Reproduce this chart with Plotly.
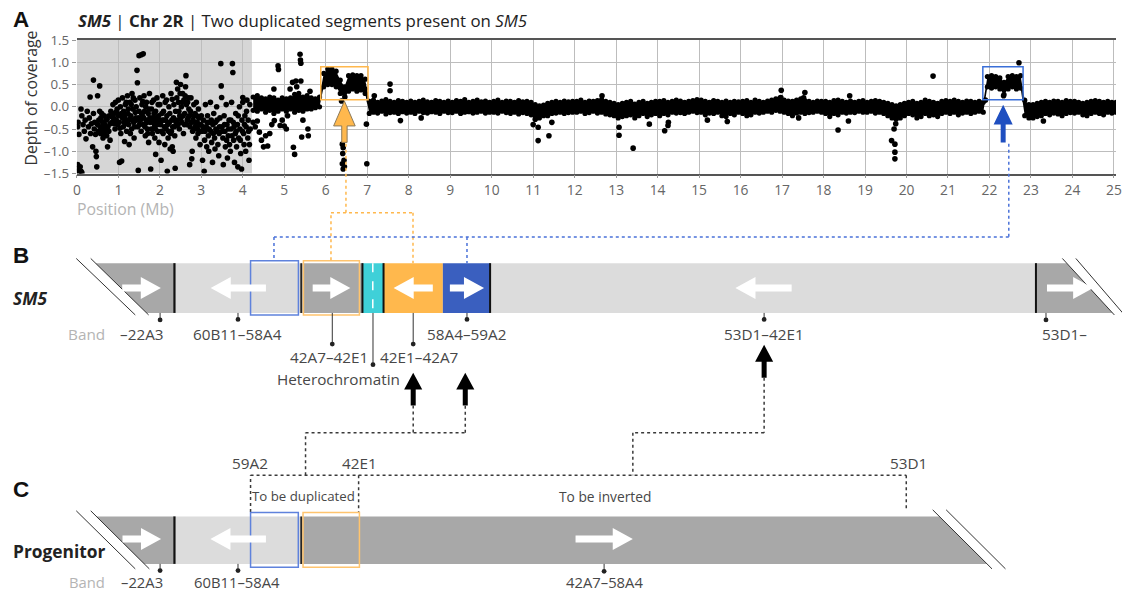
import plotly.graph_objects as go

# ---------------- DATA ----------------
x_ticks = list(range(0, 26))
y_tickvals = [-1.5, -1.0, -0.5, 0.0, 0.5, 1.0, 1.5]
y_ticktext = ["–1.5", "–1.0", "–0.5", "0.0", "0.5", "1.0", "1.5"]

# heterochromatic (grey) region, Mb
hetero_end = 4.22
# duplicated segments (Mb, depth)
dup_orange = (5.88, 7.02, 0.16, 0.90)
dup_blue = (21.84, 22.81, 0.16, 0.90)

# coverage bins (0.1 Mb) from 4.2 Mb: upper and lower edge of the dense band
band_start = 4.2
band_width = 0.1
band_hi = [
    0.22, 0.25, 0.20, 0.18, 0.22, 0.20, 0.15, 0.20,
    0.18, 0.20, 0.28, 0.30, 0.22, 0.25, 0.20, 0.18, 0.22,
    0.75, 0.85, 0.85, 0.80, 0.60, 0.45, 0.70, 0.72, 0.70, 0.70, 0.62,
    0.12, 0.15, 0.10, 0.13, 0.16, 0.12, 0.10, 0.14, 0.12, 0.10,
    0.13, 0.10, 0.12, 0.15, 0.11, 0.10, 0.14, 0.12, 0.10, 0.13,
    0.10, 0.14, 0.12, 0.16, 0.10, 0.12, 0.15, 0.11, 0.13, 0.10,
    0.12, 0.15, 0.10, 0.13, 0.12, 0.10, 0.14, 0.11, 0.12, 0.10,
    0.05, 0.02, 0.04, 0.08, 0.10, 0.12, 0.10, 0.13, 0.11, 0.12,
    0.12, 0.15, 0.10, 0.13, 0.12, 0.14, 0.16, 0.12, 0.10, 0.08,
    0.05, 0.08, 0.10, 0.12, 0.06, 0.10, 0.12, 0.08, 0.10, 0.12,
    0.12, 0.14, 0.10, 0.12, 0.15, 0.13, 0.10, 0.12, 0.14, 0.16,
    0.15, 0.12, 0.10, 0.14, 0.12, 0.10, 0.13, 0.10, 0.12, 0.11,
    0.12, 0.14, 0.10, 0.15, 0.12, 0.10, 0.13, 0.15, 0.18, 0.20,
    0.15, 0.13, 0.12, 0.15, 0.18, 0.14, 0.12, 0.10, 0.13, 0.12,
    0.12, 0.10, 0.14, 0.15, 0.12, 0.10, 0.13, 0.10, 0.12, 0.14,
    0.10, 0.12, 0.14, 0.12, 0.10, 0.08, 0.05, 0.02, 0.05, 0.08,
    0.10, 0.12, 0.08, 0.10, 0.15, 0.12, 0.10, 0.08, 0.12, 0.14,
    0.12, 0.15, 0.12, 0.10, 0.13, 0.12, 0.10, 0.12, 0.10, 0.68,
    0.70, 0.68, 0.65, 0.55, 0.68, 0.70, 0.68, 0.70, 0.15, 0.05,
    0.05, 0.08, 0.10, 0.12, 0.10, 0.13, 0.12, 0.10, 0.14, 0.12,
    0.12, 0.10, 0.08, 0.10, 0.12, 0.14, 0.12, 0.10, 0.12, 0.10,
    0.10,
]
band_lo = [
    -0.08, -0.10, -0.05, -0.12, -0.08, -0.15, -0.10, -0.05,
    -0.10, -0.05, -0.12, -0.08, -0.10, -0.05, -0.05, -0.02, 0.00,
    0.45, 0.50, 0.50, 0.45, 0.30, 0.30, 0.35, 0.40, 0.35, 0.38, 0.30,
    -0.15, -0.12, -0.14, -0.10, -0.16, -0.13, -0.12, -0.15, -0.11, -0.14,
    -0.12, -0.15, -0.10, -0.13, -0.14, -0.11, -0.12, -0.15, -0.10, -0.13,
    -0.13, -0.10, -0.15, -0.12, -0.11, -0.14, -0.12, -0.10, -0.14, -0.12,
    -0.12, -0.14, -0.10, -0.13, -0.15, -0.12, -0.16, -0.13, -0.15, -0.18,
    -0.22, -0.25, -0.20, -0.20, -0.15, -0.14, -0.12, -0.15, -0.13, -0.12,
    -0.12, -0.10, -0.15, -0.13, -0.10, -0.14, -0.12, -0.16, -0.18, -0.20,
    -0.25, -0.22, -0.20, -0.18, -0.25, -0.20, -0.15, -0.22, -0.18, -0.15,
    -0.20, -0.15, -0.18, -0.12, -0.14, -0.13, -0.15, -0.12, -0.10, -0.13,
    -0.12, -0.18, -0.14, -0.15, -0.12, -0.20, -0.22, -0.15, -0.18, -0.12,
    -0.15, -0.20, -0.18, -0.12, -0.14, -0.12, -0.10, -0.12, -0.08, -0.10,
    -0.12, -0.15, -0.20, -0.14, -0.12, -0.15, -0.13, -0.12, -0.10, -0.12,
    -0.15, -0.22, -0.15, -0.18, -0.12, -0.14, -0.12, -0.13, -0.10, -0.12,
    -0.12, -0.10, -0.14, -0.12, -0.15, -0.20, -0.25, -0.28, -0.25, -0.20,
    -0.15, -0.18, -0.25, -0.22, -0.15, -0.20, -0.18, -0.22, -0.15, -0.12,
    -0.15, -0.12, -0.18, -0.14, -0.12, -0.15, -0.12, -0.10, -0.12, 0.45,
    0.42, 0.45, 0.40, 0.28, 0.40, 0.45, 0.40, 0.42, -0.20, -0.25,
    -0.25, -0.22, -0.20, -0.15, -0.18, -0.14, -0.16, -0.20, -0.15, -0.13,
    -0.14, -0.12, -0.18, -0.20, -0.15, -0.12, -0.15, -0.18, -0.12, -0.14,
    -0.12,
]

# individual scattered bins (Mb, depth of coverage)
cloud_points = [
    (0.02, -1.30), (0.04, -1.38), (0.06, -1.42), (0.08, -1.35), (0.10, -1.45), (0.12, -1.48), (0.05, -1.46),
    (0.03, -0.35), (0.02, -0.45), (0.05, -0.62), (0.10, -0.05), (0.12, -0.20), (0.15, -0.40), (0.18, -0.55),
    (0.20, -0.30), (0.22, -0.72), (0.25, -0.10), (0.28, -0.45), (0.30, -0.25), (0.32, 0.22), (0.33, -0.60),
    (0.35, -0.38), (0.38, -0.90), (0.40, 0.60), (0.40, -0.15), (0.42, -0.50), (0.43, -0.35), (0.45, -0.62),
    (0.46, -1.00), (0.47, -1.12), (0.48, -1.35), (0.50, 0.25), (0.50, -0.40),
    (0.52, -0.55), (0.53, -0.30), (0.55, 0.47), (0.56, -0.45), (0.57, -0.60), (0.58, -0.25), (0.60, -0.50),
    (0.62, -0.35), (0.63, -0.70), (0.65, -0.42), (0.66, -0.20), (0.68, -0.55), (0.70, -0.30), (0.72, -0.65),
    (0.74, -0.90), (0.75, -0.45), (0.78, -0.20), (0.80, -0.75), (0.82, -0.10), (0.85, -0.35), (0.87, 0.05),
    (0.88, -0.25), (0.90, -0.15), (0.92, -0.50), (0.93, 0.10), (0.95, -0.30), (0.97, -0.05), (0.98, -0.40),
    (1.00, 0.15), (1.00, -0.20), (1.02, -0.35), (1.03, -1.25), (1.05, 0.00), (1.06, -0.60), (1.08, -1.22),
    (1.10, 0.20), (1.10, -0.25), (1.12, -0.45), (1.13, -0.10), (1.15, -0.78), (1.17, 0.05), (1.18, -0.30),
    (1.20, -0.55), (1.22, 0.25), (1.23, -0.15), (1.25, -0.40), (1.26, -0.85), (1.28, 0.10), (1.30, -0.20),
    (1.32, -0.50), (1.33, 0.30), (1.35, -0.05), (1.37, -0.35), (1.38, -0.70), (1.40, 0.15), (1.42, -0.25),
    (1.43, 0.00), (1.45, 0.82), (1.46, 0.54), (1.47, -0.45), (1.48, -1.43), (1.50, -0.10), (1.50, 1.15),
    (1.55, 1.17), (1.60, 1.19), (1.52, 0.20), (1.53, -0.30), (1.55, -0.55), (1.57, 0.05), (1.58, -0.20),
    (1.60, -0.40), (1.62, 0.25), (1.63, -0.10), (1.65, -0.65), (1.67, -0.30), (1.68, 0.10), (1.70, -0.50),
    (1.72, -0.15), (1.73, -0.80), (1.75, 0.30), (1.77, -0.35), (1.78, -1.40), (1.80, -0.05), (1.82, -0.60),
    (1.83, -0.25), (1.85, 0.15), (1.87, -0.45), (1.88, -0.70), (1.90, -1.07), (1.90, -0.10), (1.92, -0.35),
    (1.93, 0.20), (1.95, -0.55), (1.97, -0.20), (1.98, -0.80), (2.00, 0.05),
    (2.02, -0.40), (2.03, -1.20), (2.05, -0.15), (2.07, 0.25), (2.08, -0.60), (2.10, -0.30), (2.12, -0.85),
    (2.13, 0.10), (2.15, -0.50), (2.17, -0.20), (2.18, -1.45), (2.20, -0.70), (2.22, 0.00), (2.23, -0.35),
    (2.25, -0.95), (2.27, 0.30), (2.28, -0.55), (2.30, 0.17), (2.30, -0.90), (2.32, -1.00), (2.33, -0.25),
    (2.35, -0.45), (2.37, -1.38), (2.38, -0.10), (2.40, 0.55), (2.42, -0.30), (2.43, 0.40), (2.45, 0.10),
    (2.47, -0.50), (2.48, -0.20), (2.50, 0.50),
    (2.52, 0.00), (2.53, -0.35), (2.55, 0.30), (2.57, -0.60), (2.58, 0.15), (2.60, -0.15), (2.62, 0.45),
    (2.63, 0.70), (2.65, -0.40), (2.67, 0.10), (2.68, -0.25), (2.70, -0.05), (2.72, -1.30), (2.73, -0.45),
    (2.75, 0.20), (2.77, -1.17), (2.78, -1.00), (2.80, -0.30), (2.82, 0.05), (2.83, -0.50), (2.85, -0.15),
    (2.87, -0.70), (2.88, 0.10), (2.90, -0.35), (2.92, -0.60), (2.93, -0.05), (2.95, -0.40), (2.97, -0.85),
    (3.00, -0.20),
    (3.02, -0.55), (3.03, -1.20), (3.05, -0.30), (3.07, -1.45), (3.08, -0.75), (3.10, 0.05), (3.12, -0.45),
    (3.13, -0.90), (3.15, -0.20), (3.17, -0.65), (3.18, -1.00), (3.20, -0.35), (3.22, 0.10), (3.23, -0.55),
    (3.25, -0.80), (3.27, -1.25), (3.28, -0.40), (3.30, -0.15), (3.32, -0.70), (3.33, -0.95), (3.35, -0.50),
    (3.37, 0.00), (3.38, -0.30), (3.40, -0.85), (3.42, -1.10), (3.43, -0.60), (3.45, -0.25), (3.47, 0.97),
    (3.48, 0.47), (3.49, 0.21), (3.50, -0.45),
    (3.52, -0.70), (3.53, -1.30), (3.55, -0.20), (3.57, -0.55), (3.58, -0.90), (3.60, 0.05), (3.62, -0.40),
    (3.63, -1.15), (3.65, -0.65), (3.67, -0.30), (3.68, -0.85), (3.70, -1.00), (3.72, -0.50), (3.73, 0.10),
    (3.75, 0.97), (3.76, 0.77), (3.77, -0.35), (3.78, -0.75), (3.80, -1.25), (3.82, -0.60), (3.83, -0.15),
    (3.85, -0.90), (3.87, -0.40), (3.88, -1.35), (3.90, -0.70), (3.92, 0.00), (3.93, -0.50), (3.95, -1.05),
    (3.97, -1.40), (3.98, -0.30), (4.00, 0.21), (4.00, 0.10), (4.02, -0.60), (4.03, -0.85), (4.05, -0.20),
    (4.07, -1.00), (4.08, -0.45), (4.10, 0.15), (4.12, -0.70), (4.13, -0.30), (4.15, -1.20), (4.17, 0.05),
    (4.18, -0.50),
    (0.55, -0.10), (0.60, -0.15), (0.62, -0.60), (0.67, -0.40), (0.70, -0.48), (0.73, -0.28), (0.77, -0.55),
    (0.80, -0.38), (0.84, -0.22), (0.90, -0.38), (0.95, -0.12), (1.04, -0.48), (1.07, -0.15), (1.14, -0.35),
    (1.16, -0.20), (1.19, 0.10), (1.21, -0.38), (1.24, -0.05), (1.27, -0.28), (1.29, -0.60), (1.31, 0.05),
    (1.34, -0.30), (1.36, 0.20), (1.39, -0.45), (1.41, -0.12), (1.44, -0.30), (1.49, -0.25), (1.51, -0.40),
    (1.56, -0.15), (1.59, 0.12), (1.61, -0.25), (1.64, -0.45), (1.66, 0.00), (1.69, -0.35), (1.71, -0.60),
    (1.74, -0.05), (1.76, -0.25), (1.79, -0.50), (1.81, 0.10), (1.84, -0.35), (1.86, -0.15), (1.89, -0.50),
    (1.91, -0.25), (1.94, -0.40), (1.96, 0.05), (1.99, -0.30), (2.04, -0.55), (2.06, -0.30), (2.09, -0.10),
    (2.11, -0.45), (2.14, -0.30), (2.16, 0.15), (2.19, -0.40), (2.21, -0.55), (2.24, -0.15), (2.26, -0.60),
    (2.29, -0.30), (2.31, -0.45), (2.34, 0.05), (2.36, -0.65), (2.39, -0.35), (2.41, 0.20), (2.44, -0.40),
    (2.46, -0.10), (2.49, 0.30), (2.51, -0.25), (2.54, 0.10), (2.56, -0.20), (2.59, -0.40), (2.61, 0.25),
    (2.64, 0.05), (2.66, -0.30), (2.69, 0.20), (2.71, -0.20), (2.74, -0.10), (2.76, -0.35), (2.79, -0.55),
    (2.81, -0.20), (2.84, -0.35), (2.86, -0.45), (2.89, -0.20), (2.91, -0.50), (2.94, -0.25), (2.96, -0.55),
    (2.99, -0.40), (3.04, -0.45), (3.09, -0.55), (3.14, -0.35), (3.19, -0.50), (3.24, -0.30), (3.29, -0.60),
    (3.34, -0.35), (3.39, -0.55), (3.44, -0.45), (3.51, -0.55), (3.56, -0.40), (3.61, -0.75), (3.66, -0.50),
    (3.71, -0.30), (3.74, -0.65), (3.79, -0.45), (3.84, -0.55), (3.89, -0.20), (3.94, -0.75), (3.99, -0.55),
    (4.04, -0.40), (4.09, -0.10), (4.14, -0.55), (4.16, -0.85),
    (4.25, -0.35), (4.30, -0.45), (4.35, -0.32), (4.40, -0.57), (4.45, -0.75), (4.50, -0.90), (4.55, -0.65),
    (4.60, -0.88), (4.65, -0.60), (4.70, -0.40), (4.75, 0.40), (4.76, -0.31), (4.85, 0.92), (4.86, 0.84),
    (4.90, -0.42), (4.95, -0.30), (5.00, -0.43), (5.05, -0.50), (5.08, -0.20), (5.14, 0.40), (5.20, 0.55),
    (5.22, -0.91), (5.25, -1.07), (5.28, 0.58), (5.30, 0.45), (5.38, 1.18), (5.39, 1.05), (5.40, 0.98),
    (5.40, 0.58), (5.42, -0.68), (5.45, -0.30), (5.57, -0.50), (5.58, -0.65), (5.62, 0.35),
    (6.38, 0.13), (6.40, -0.84), (6.42, -0.92), (6.41, -1.05), (6.44, -1.20), (6.40, -1.28), (6.45, -1.35),
    (6.42, -1.40), (6.46, 0.22),
    (6.94, 0.40), (6.99, -1.28), (6.98, -0.39), (7.17, 0.25), (7.55, 0.51), (7.55, 0.36), (7.80, -0.31),
    (8.30, -0.25), (11.00, -0.40), (11.05, -0.28), (11.12, -0.46), (11.12, -0.76), (11.38, -0.65),
    (11.45, -0.35), (12.66, 0.25), (13.07, -0.46), (13.07, -0.64), (13.41, -0.93), (13.80, -0.39),
    (14.17, -0.54), (14.26, -0.35), (14.25, -0.42), (15.20, -0.30), (15.68, -0.33), (16.98, 0.37),
    (16.97, 0.21), (17.55, 0.32), (17.52, 0.20), (17.40, -0.25), (18.35, -0.52), (18.63, 0.25),
    (18.60, -0.32), (19.64, -0.76), (19.70, -0.50), (19.72, -0.84), (19.72, -1.02), (19.72, -1.17),
    (19.74, -0.38), (20.64, 0.69), (22.71, 0.99), (21.90, 0.15), (22.34, 0.25), (23.30, -0.32),
]

# band labels of the schematic chromosomes
labels_B_row1 = ["–22A3", "60B11–58A4", "58A4–59A2", "53D1–42E1", "53D1–"]
labels_B_row2 = ["42A7–42E1", "42E1–42A7"]
label_hetero = "Heterochromatin"
labels_C_row = ["–22A3", "60B11–58A4", "42A7–58A4"]
labels_C_top = ["59A2", "42E1", "53D1"]
region_names = ["To be duplicated", "To be inverted"]

# ---------------- STYLE / GEOMETRY ----------------
W, H = 1122, 596
# the page is photographed with a small frame and fitted to 1122x596:
# positions below are given in picture pixels and mapped back to figure pixels
OX, OY = 5.5, 8.0
SX, SY = 1122 / 1138, 596 / 612
FS = 1 / 0.98  # font compensation for the fit

FONT = "Open Sans"
DARK = "#a8a8a8"
LIGHT = "#dcdcdc"
CYAN = "#3fd0d8"
ORANGE = "#ffb84d"
BLUE = "#3a5fbf"
BLUE_BOX = "#5f82dc"
ORANGE_BOX = "#ffc46e"
TXT = "#474747"


def fx(t):
    return t / SX - OX


def fy(t):
    return t / SY - OY


def PX(x):
    return fx(x) / W


def PY(y):
    return 1 - fy(y) / H


band_x = [round(band_start + band_width * (i + 0.5), 3) for i in range(len(band_hi))]
cx = [p[0] for p in cloud_points]
cy = [p[1] for p in cloud_points]

fig = go.Figure()
fig.add_trace(go.Scatter(x=band_x, y=band_lo, mode="lines", line=dict(width=0, color="black"),
                         hoverinfo="skip"))
fig.add_trace(go.Scatter(x=band_x, y=band_hi, mode="lines", line=dict(width=0, color="black"),
                         fill="tonexty", fillcolor="black", hoverinfo="skip"))
fig.add_trace(go.Scatter(x=band_x + band_x, y=band_hi + band_lo, mode="markers",
                         marker=dict(size=5.2, color="black")))
fig.add_trace(go.Scatter(x=cx, y=cy, mode="markers", marker=dict(size=5.6, color="black")))

shapes = []
ann = []

# ---- panel A shapes (data coords)
shapes.append(dict(type="rect", xref="x", yref="y", x0=0, x1=hetero_end, y0=-1.5, y1=1.5,
                   fillcolor="#d6d6d6", line=dict(width=0), layer="below"))
for (x0, x1, y0, y1), col in [(dup_orange, ORANGE), (dup_blue, "#3a6fd8")]:
    shapes.append(dict(type="rect", xref="x", yref="y", x0=x0, x1=x1, y0=y0, y1=y1,
                       line=dict(color=col, width=1.5), fillcolor="rgba(0,0,0,0)"))


def up_arrow_data(xc, ytip, yhead, ybot, hw, sw, fill, line=None):
    pts = [(xc, ytip), (xc + hw, yhead), (xc + sw, yhead), (xc + sw, ybot),
           (xc - sw, ybot), (xc - sw, yhead), (xc - hw, yhead)]
    path = "M " + " L ".join(f"{a},{b}" for a, b in pts) + " Z"
    shapes.append(dict(type="path", xref="x", yref="y", path=path, fillcolor=fill,
                       line=dict(color=line or "rgba(0,0,0,0)", width=1 if line else 0)))


up_arrow_data(6.45, 0.13, -0.43, -0.80, 0.26, 0.065, ORANGE, "#8c7a5a")
up_arrow_data(22.33, 0.045, -0.40, -0.80, 0.23, 0.06, "#1f4fc0")


def rect(x0, y0, x1, y1, fill="rgba(0,0,0,0)", line=None, lw=0):
    shapes.append(dict(type="rect", xref="paper", yref="paper", x0=PX(x0), x1=PX(x1),
                       y0=PY(y1), y1=PY(y0), fillcolor=fill,
                       line=dict(color=line or "rgba(0,0,0,0)", width=lw)))


def poly(pts, fill):
    path = "M " + " L ".join(f"{PX(a):.5f},{PY(b):.5f}" for a, b in pts) + " Z"
    shapes.append(dict(type="path", xref="paper", yref="paper", path=path, fillcolor=fill,
                       line=dict(width=0)))


def seg(x0, y0, x1, y1, color="#222", width=1.0, dash="solid"):
    shapes.append(dict(type="line", xref="paper", yref="paper", x0=PX(x0), y0=PY(y0),
                       x1=PX(x1), y1=PY(y1), line=dict(color=color, width=width, dash=dash)))


def polyline(pts, color, width=1.5, dash="dot"):
    for (a, b), (c, d) in zip(pts[:-1], pts[1:]):
        seg(a, b, c, d, color, width, dash)


def dot(x, y, r=2.4):
    shapes.append(dict(type="circle", xref="paper", yref="paper", x0=PX(x - r), x1=PX(x + r),
                       y0=PY(y + r), y1=PY(y - r), fillcolor="#222", line=dict(width=0)))


def harrow(xt, xtip, yc, fill="white", shaft=7, hh=22, hl=20):
    d = 1 if xtip > xt else -1
    hb = xtip - d * hl
    poly([(xt, yc - shaft / 2), (hb, yc - shaft / 2), (hb, yc - hh / 2), (xtip, yc),
          (hb, yc + hh / 2), (hb, yc + shaft / 2), (xt, yc + shaft / 2)], fill)


def uarrow(xc, ytip, ybot, fill="black", sw=5, hw=18, hh=17):
    yb = ytip + hh
    poly([(xc, ytip), (xc + hw / 2, yb), (xc + sw / 2, yb), (xc + sw / 2, ybot),
          (xc - sw / 2, ybot), (xc - sw / 2, yb), (xc - hw / 2, yb)], fill)


def text(x, y, s, size=15, color=TXT, xanchor="center", family=FONT, angle=0, weight=None):
    f = dict(family=family, size=round(size * FS, 2), color=color)
    if weight:
        f["weight"] = weight
    ann.append(dict(xref="paper", yref="paper", x=PX(x), y=PY(y), text=s, showarrow=False,
                    xanchor=xanchor, yanchor="middle", font=f, textangle=angle))


def slash_x(p0, p1, y):
    (xa, ya), (xb, yb) = p0, p1
    return xa + (xb - xa) * (y - ya) / (yb - ya)


# ---- panel B chromosome
T, B_ = 263, 313
sl1 = ((77.3, 258.3), (136, 315))
sl2 = ((91.7, 258.3), (149.3, 315))
sr1 = ((1058.3, 258.3), (1110, 315))
sr2 = ((1071.7, 258.3), (1120, 315))
poly([(slash_x(*sl2, T), T), (175, T), (175, B_), (slash_x(*sl2, B_), B_)], DARK)
rect(175, T, 301, B_, LIGHT)
rect(301, T, 362, B_, DARK)
rect(362, T, 383, B_, CYAN)
rect(383, T, 442, B_, ORANGE)
rect(442, T, 489, B_, BLUE)
rect(489, T, 1032, B_, LIGHT)
poly([(1032, T), (slash_x(*sr1, T), T), (slash_x(*sr1, B_), B_), (1032, B_)], DARK)
for xl, wl in [(175, 2.2), (301, 1.5), (362, 2), (383, 2), (489, 2), (1032, 2)]:
    seg(xl, T, xl, B_, "#111", wl)
seg(372.3, T, 372.3, B_, "white", 1.5, "dash")
for s in (sl1, sl2, sr1, sr2):
    seg(*s[0], *s[1], "#333", 1)
rect(250.7, 260.7, 298.3, 315, line=BLUE_BOX, lw=1.5)
rect(303.3, 260.7, 359, 315, line=ORANGE_BOX, lw=1.5)
for a, b in [(123, 161.5), (266, 211), (312.5, 350), (432, 393), (449, 483), (789, 733), (1043, 1089)]:
    harrow(a, b, 288)

# stems + dots + labels B
for xs, yd in [(160.7, 320), (238.2, 319.5), (466, 319.5), (761.6, 319.5), (1042, 320)]:
    seg(xs, B_, xs, yd, "#333", 1)
    dot(xs, yd)
for xs, yd in [(332, 344.3), (372.5, 365), (412.5, 344.3)]:
    seg(xs, B_, xs, yd, "#333", 1)
    dot(xs, yd)
text(87.5, 334, "Band", color="#b4b4b4")
for lab, xc in zip(labels_B_row1, [143, 237.5, 466, 761.6, 1060]):
    text(xc, 334, lab)
for lab, xc in zip(labels_B_row2, [328.6, 417.9]):
    text(xc, 357.7, lab)
text(338.4, 379, label_hetero)

# black arrows
uarrow(412.5, 373, 406)
uarrow(464.3, 373, 406)
uarrow(761.6, 345, 378)

# dotted connectors A -> B
polyline([(345.6, 143), (345.6, 212.3)], ORANGE)
polyline([(330.7, 260), (330.7, 212.3), (412.3, 212.3), (412.3, 263)], ORANGE)
polyline([(1005, 143), (1005, 236.7), (274, 236.7), (274, 260.5)], "#4a72d9")
polyline([(466, 236.7), (466, 263)], "#4a72d9")

# dotted connectors B -> C
DK = "#3a3a3a"
polyline([(412.5, 406), (412.5, 433.3)], DK)
polyline([(305.4, 476), (305.4, 433.3), (464.3, 433.3), (464.3, 406)], DK)
polyline([(761.6, 378), (761.6, 433.3), (631, 433.3), (631, 476)], DK)
polyline([(250.7, 513), (250.7, 476), (903, 476), (903, 512)], DK)
polyline([(358.2, 476), (358.2, 513)], DK)

# ---- panel C chromosome
T2, B2 = 517.3, 565
cl1 = ((77.3, 511.7), (136, 570))
cl2 = ((91.7, 511.7), (150, 570))
cr1 = ((929.3, 510.7), (988.3, 570))
cr2 = ((942.7, 510.7), (1001.7, 570))
poly([(slash_x(*cl2, T2), T2), (175, T2), (175, B2), (slash_x(*cl2, B2), B2)], DARK)
rect(175, T2, 301, B2, LIGHT)
poly([(301, T2), (slash_x(*cr1, T2), T2), (slash_x(*cr1, B2), B2), (301, B2)], DARK)
seg(175, T2, 175, B2, "#111", 2.2)
seg(301, T2, 301, B2, "#111", 1.5)
for s in (cl1, cl2, cr1, cr2):
    seg(*s[0], *s[1], "#333", 1)
rect(250.7, 513.3, 298.2, 568.3, line=BLUE_BOX, lw=1.5)
rect(302.9, 513.3, 359, 568.3, line=ORANGE_BOX, lw=1.5)
for a, b in [(123.3, 161.7), (266, 210.7), (574, 631)]:
    harrow(a, b, 540)
for xs, yd in [(160.7, 571.7), (238.2, 571.7), (602.4, 572.5)]:
    seg(xs, B2, xs, yd, "#333", 1)
    dot(xs, yd)
text(87.5, 583.5, "Band", size=14.5, color="#b4b4b4")
for lab, xc in zip(labels_C_row, [143, 237.5, 603]):
    text(xc, 583.5, lab, size=14.5)
for lab, xc in zip(labels_C_top, [250, 358.9, 905]):
    text(xc, 464, lab)
text(303, 497.3, region_names[0], size=13)
text(603, 497.3, region_names[1], size=13.5)

# ---- panel letters & titles
text(22.5, 18, "A", size=22, color="#111", family="Liberation Sans", weight="bold")
text(22.5, 255, "B", size=22, color="#111", family="Liberation Sans", weight="bold")
text(22.5, 490, "C", size=22, color="#111", family="Liberation Sans", weight="bold")
text(77, 19, "<b><i>SM5</i></b> | <b>Chr 2R</b> | Two duplicated segments present on <i>SM5</i>",
     size=16.5, color="#222", xanchor="left")
text(12, 298, "<b><i>SM5</i></b>", size=17, color="#222", xanchor="left")
text(12, 551.7, "<b>Progenitor</b>", size=17, color="#222", xanchor="left")
text(32, 97, "Depth of coverage", size=15.5, color="#333", angle=-90)
text(76, 209, "Position (Mb)", size=15.5, color="#b4b4b4", xanchor="left")

x_dom0 = fx(77.9) / W
y_dom0 = 1 - fy(173) / H
y_dom1 = 1 - fy(39) / H

fig.update_layout(
    width=W, height=H, margin=dict(l=0, r=0, t=0, b=0),
    paper_bgcolor="white", plot_bgcolor="rgba(0,0,0,0)", showlegend=False,
    shapes=shapes, annotations=ann,
    font=dict(family=FONT, color="#555"),
    xaxis=dict(domain=[x_dom0, 1.0], range=[0, 25.05], tickvals=x_ticks,
               ticktext=[str(t) for t in x_ticks], showgrid=True, gridcolor="#bdbdbd", gridwidth=1,
               showline=True, mirror=True, linecolor="#555", linewidth=1.5, zeroline=False,
               ticks="outside", ticklen=3, tickcolor="#999", ticklabeloverflow="allow",
               tickfont=dict(size=13.8, color="#666")),
    yaxis=dict(domain=[y_dom0, y_dom1], range=[-1.5, 1.5], tickvals=y_tickvals,
               ticktext=y_ticktext, showgrid=True, gridcolor="#bdbdbd", gridwidth=1,
               showline=False, zeroline=False, ticks="outside", ticklen=4, tickcolor="#999",
               tickfont=dict(size=13.3, color="#666")),
)

fig.write_html(
    "out.html",
    config={"displayModeBar": False},
    post_script="document.documentElement.style.overflow='hidden';"
                "document.body.style.margin='0px';document.body.style.overflow='hidden';",
)
